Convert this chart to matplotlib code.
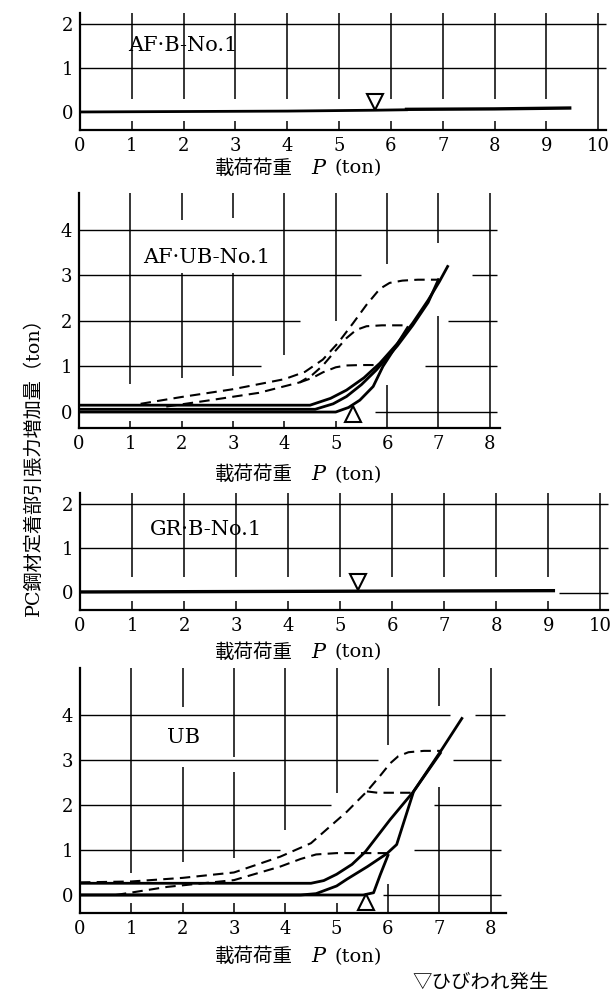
import matplotlib.pyplot as plt

plt.rcParams['font.family'] = ['DejaVu Serif', 'Noto Sans CJK JP']

# --- AF・B-No.1 ---
afb_p = [0, 2, 4, 5.7, 6.3]
afb_t = [0.0, 0.01, 0.02, 0.04, 0.05]
afb_p2 = [6.3, 8.0, 9.45]
afb_t2 = [0.06, 0.07, 0.09]
afb_crack = (5.7, 0.22)

# --- AF・UB-No.1 ---
afub_s1_p = [0, 4.5, 4.9, 5.21, 5.55, 5.86, 6.2, 6.5, 6.8, 7.02, 7.18]
afub_s1_t = [0.15, 0.15, 0.3, 0.48, 0.75, 1.07, 1.5, 1.95, 2.45, 2.86, 3.19]
afub_s2_p = [0, 4.6, 4.95, 5.21, 5.5, 5.79, 6.2, 6.5, 6.8, 7.0]
afub_s2_t = [0.06, 0.06, 0.18, 0.34, 0.6, 0.92, 1.45, 1.9, 2.4, 2.9]
afub_s3_p = [0, 5.0, 5.25, 5.47, 5.73, 5.92, 6.15, 6.4]
afub_s3_t = [0.0, 0.0, 0.1, 0.26, 0.56, 1.0, 1.4, 1.85]
afub_d1_p = [1.2, 2.0, 3.0, 4.0, 4.4, 4.75, 5.05, 5.34, 5.6, 5.86, 6.05, 6.3, 6.6, 7.0]
afub_d1_t = [0.18, 0.33, 0.5, 0.72, 0.88, 1.15, 1.52, 1.95, 2.35, 2.7, 2.83, 2.88, 2.9, 2.9]
afub_d2_p = [1.7, 2.5, 3.5, 4.3, 4.55, 4.75, 5.0, 5.21, 5.4, 5.6, 5.9, 6.4]
afub_d2_t = [0.12, 0.25, 0.42, 0.65, 0.82, 1.02, 1.35, 1.62, 1.8, 1.88, 1.9, 1.9]
afub_d3_p = [4.3, 4.55, 4.75, 5.0, 5.2, 5.5, 5.86]
afub_d3_t = [0.65, 0.75, 0.87, 0.98, 1.02, 1.03, 1.03]
afub_crack = (5.33, -0.05)

# --- GR・B-No.1 ---
grb_p = [0, 3, 6, 9.1]
grb_t = [0.0, 0.01, 0.02, 0.03]
grb_crack = (5.35, 0.22)

# --- UB ---
ub_s1_p = [0, 4.5, 4.75, 5.0, 5.3, 5.56, 6.04, 6.5, 7.02, 7.44]
ub_s1_t = [0.26, 0.26, 0.32, 0.46, 0.68, 0.96, 1.67, 2.3, 3.18, 3.92]
ub_s2_p = [0, 4.3, 4.6, 5.0, 5.2, 5.6, 5.98, 6.17, 6.5, 7.02]
ub_s2_t = [0.0, 0.0, 0.03, 0.2, 0.35, 0.63, 0.92, 1.12, 2.3, 3.15]
ub_s3_p = [0, 5.52, 5.72, 5.85, 6.0]
ub_s3_t = [0.0, 0.0, 0.05, 0.45, 0.88]
ub_d1_p = [0, 1.0, 2.0, 3.0, 3.9, 4.5, 4.87, 5.2, 5.59, 5.85, 6.04, 6.2, 6.4, 6.7, 7.05]
ub_d1_t = [0.28, 0.3, 0.38, 0.5, 0.85, 1.15, 1.52, 1.85, 2.3, 2.65, 2.92, 3.08, 3.17, 3.2, 3.2]
ub_d2_p = [5.59, 5.8, 6.0, 6.5]
ub_d2_t = [2.3, 2.27, 2.27, 2.27]
ub_d3_p = [0.7, 1.7, 3.0, 3.9, 4.3, 4.6, 5.0, 6.0]
ub_d3_t = [0.0, 0.18, 0.33, 0.63, 0.8, 0.9, 0.93, 0.93]
ub_crack = (5.58, -0.15)

W, H = 616, 994
fig = plt.figure(figsize=(W / 100, H / 100), dpi=100)


def px_axes(x0, y_top, w, y_bot):
    return fig.add_axes([x0 / W, 1 - y_bot / H, w / W, (y_bot - y_top) / H])


def frame(ax, xmax, ylo, yhi, xticks, yticks, hsegs, vsegs):
    ax.set_xlim(0, xmax)
    ax.set_ylim(ylo, yhi)
    ax.spines['top'].set_visible(False)
    ax.spines['right'].set_visible(False)
    for s in ['left', 'bottom']:
        ax.spines[s].set_linewidth(1.6)
    ax.set_xticks(xticks)
    ax.set_yticks(yticks)
    ax.tick_params(length=0, labelsize=13, pad=5)
    for y, a, b in hsegs:
        ax.plot([a, b], [y, y], color='k', lw=1.0, solid_capstyle='butt', clip_on=False)
    for x, a, b in vsegs:
        ax.plot([x, x], [a, b], color='k', lw=1.1, solid_capstyle='butt', clip_on=False)
    ax.patch.set_alpha(0)


def xlabel(y):
    yy = 1 - y / H
    fig.text(293 / W, yy, '載荷荷重', ha='right', va='center', fontsize=14,
             family='Noto Sans CJK JP')
    fig.text(318 / W, yy, 'P', ha='center', va='center', fontsize=15, style='italic')
    fig.text(335 / W, yy, '(ton)', ha='left', va='center', fontsize=14)


def solid(ax, p, t):
    ax.plot(p, t, color='k', lw=2.0, solid_joinstyle='round')


def dashed(ax, p, t):
    ax.plot(p, t, color='k', lw=1.5, dashes=(5, 3))


def crack(ax, pos, mk):
    ax.plot([pos[0]], [pos[1]], marker=mk, ms=11, mfc='white', mec='k', mew=1.5,
            ls='none', zorder=5)


# panel 1
ax1 = px_axes(80, 13, 526, 130)
v1 = [(x, 0.3, 2.25) for x in range(1, 10)] + [(x, -0.41, -0.2) for x in range(1, 10)]
v1 += [(10, -0.41, 2.25)]
frame(ax1, 10.15, -0.41, 2.25, range(0, 11), [0, 1, 2],
      [(1, 0, 10.15), (2, 0, 10.15)], v1)
solid(ax1, afb_p, afb_t)
ax1.plot(afb_p2, afb_t2, color='k', lw=2.4)
crack(ax1, afb_crack, 'v')
ax1.text(0.93, 1.5, 'AF·B-No.1', fontsize=15, va='center')
xlabel(168)

# panel 2
ax2 = px_axes(79, 193, 421, 428)
h2 = [(4, 0, 8.15), (3, 0, 5.5), (3, 7.65, 8.15), (2, 0, 4.3), (2, 7.18, 8.15),
      (1, 0, 3.55), (1, 6.73, 8.15), (0, 5.76, 8.15)]
v2 = [(1, 0.62, 4.8), (2, 4.2, 4.8), (2, 0.75, 3.05), (3, 4.25, 4.8), (3, 0.8, 3.05),
      (4, 1.25, 4.8), (5, 2.0, 4.8), (6, 3.25, 4.8), (6, -0.35, 0.6), (7, 3.7, 4.8),
      (7, -0.35, 2.1), (8, -0.35, 4.8)] + [(x, -0.35, -0.2) for x in range(1, 6)]
frame(ax2, 8.2, -0.35, 4.8, range(0, 9), range(0, 5), h2, v2)
solid(ax2, afub_s1_p, afub_s1_t)
solid(ax2, afub_s2_p, afub_s2_t)
solid(ax2, afub_s3_p, afub_s3_t)
dashed(ax2, afub_d1_p, afub_d1_t)
dashed(ax2, afub_d2_p, afub_d2_t)
dashed(ax2, afub_d3_p, afub_d3_t)
crack(ax2, afub_crack, '^')
ax2.text(1.25, 3.38, 'AF·UB-No.1', fontsize=15, va='center')
xlabel(475)

# panel 3
ax3 = px_axes(80, 493, 528, 610)
v3 = [(x, 0.35, 2.25) for x in range(1, 10)] + [(x, -0.41, -0.2) for x in range(1, 10)]
v3 += [(10, -0.41, 2.25)]
frame(ax3, 10.15, -0.41, 2.25, range(0, 11), [0, 1, 2],
      [(1, 0, 10.15), (2, 0, 10.15), (-0.03, 9.2, 10.15)], v3)
ax3.plot(grb_p, grb_t, color='k', lw=2.4)
crack(ax3, grb_crack, 'v')
ax3.text(1.35, 1.41, 'GR·B-No.1', fontsize=15, va='center')
xlabel(652)

# panel 4
ax4 = px_axes(80, 668, 426, 913)
h4 = [(4, 0, 7.2), (4, 7.7, 8.28), (3, 0, 5.8), (3, 7.27, 8.2), (2, 0, 4.9),
      (2, 6.9, 8.2), (1, 0, 3.9), (1, 6.5, 8.2), (0, 5.9, 8.2)]
v4 = [(1, 0.49, 5.04), (2, 4.18, 5.04), (2, 0.73, 2.84), (3, 3.07, 5.04), (3, 0.82, 2.73),
      (4, 1.44, 5.04), (5, 2.27, 5.04), (6, 3.33, 5.04), (6, -0.4, 0.25), (7, 4.2, 5.04),
      (7, -0.4, 2.4), (8, -0.4, 5.04)] + [(x, -0.4, -0.18) for x in range(1, 6)]
frame(ax4, 8.3, -0.4, 5.04, range(0, 9), range(0, 5), h4, v4)
solid(ax4, ub_s1_p, ub_s1_t)
solid(ax4, ub_s2_p, ub_s2_t)
solid(ax4, ub_s3_p, ub_s3_t)
dashed(ax4, ub_d1_p, ub_d1_t)
dashed(ax4, ub_d2_p, ub_d2_t)
dashed(ax4, ub_d3_p, ub_d3_t)
crack(ax4, ub_crack, '^')
ax4.text(1.69, 3.49, 'UB', fontsize=15, va='center')
xlabel(957)

fig.text(34 / W, 1 - 462 / H, 'PC鋼材定着部引張力増加量（ton）', rotation=90,
         ha='center', va='center', fontsize=13.8)
fig.text(412 / W, 1 - 982 / H, '▽ひびわれ発生', ha='left', va='center', fontsize=14,
         family='Noto Sans CJK JP')

fig.savefig('out.png', dpi=100)
